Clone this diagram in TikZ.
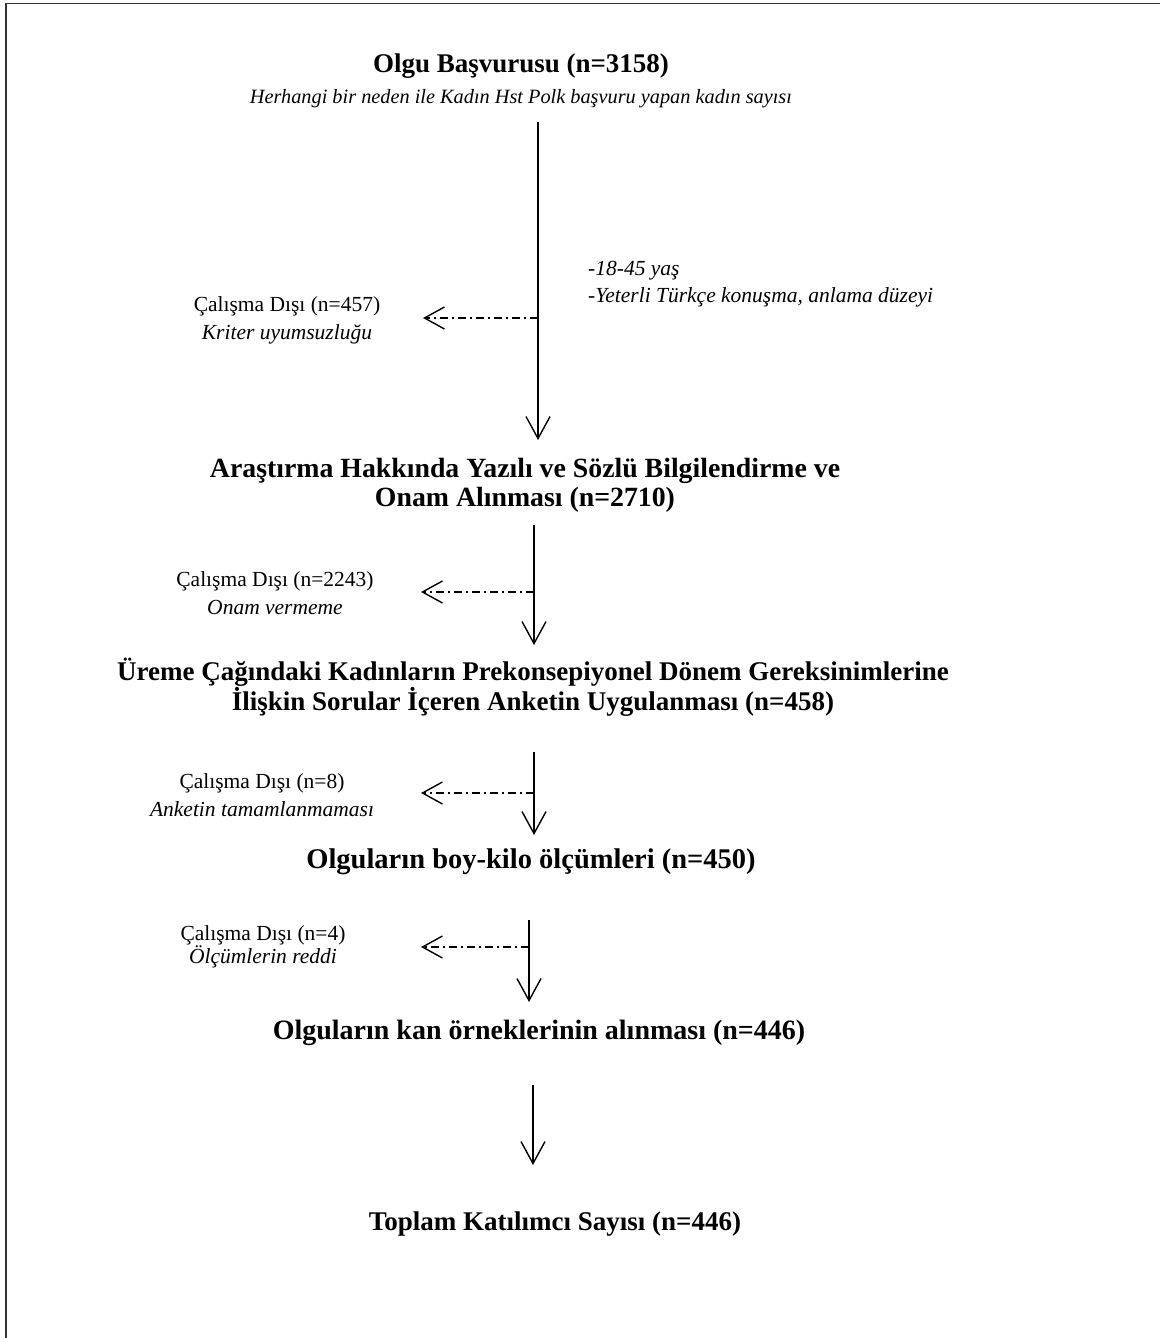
\documentclass[tikz,border=0pt]{standalone}
\usepackage{fontspec}
\setmainfont{Liberation Serif}
\usetikzlibrary{arrows.meta}
\begin{document}
\begin{tikzpicture}[x=1pt,y=-1pt,
  mainbox/.style={font=\fontsize{27}{30}\selectfont\bfseries, align=center, inner sep=0pt},
  subtxt/.style={font=\fontsize{20.3}{28}\selectfont\itshape, align=center, inner sep=0pt},
  exctxt/.style={font=\fontsize{21.5}{28}\selectfont, align=center, inner sep=0pt},
  crit/.style={font=\fontsize{21.5}{27}\selectfont\itshape, align=left, inner sep=0pt, anchor=west},
  flow/.style={line width=1.4pt, -{Straight Barb[length=22pt,width=24pt,line width=1.4pt]}},
  side/.style={line width=1.4pt, dash pattern=on 8pt off 4pt on 2pt off 4pt, -{Straight Barb[length=20pt,width=22pt,line width=1.4pt]}}
]
\useasboundingbox (0,0) rectangle (1160,1338);
\draw[line width=1.8pt, black!80] (6,1338) -- (6,3.5) -- (1160,3.5);

% main nodes
\node[mainbox] (n1) at (521,66) {Olgu Başvurusu (n=3158)};
\node[subtxt] (n1s) at (521,99) {Herhangi bir neden ile Kadın Hst Polk başvuru yapan kadın sayısı};
\node[mainbox, font=\fontsize{27.8}{29}\selectfont\bfseries] (n2) at (525,485) {Araştırma Hakkında Yazılı ve Sözlü Bilgilendirme ve\\Onam Alınması (n=2710)};
\node[mainbox] (n3) at (533,687) {Üreme Çağındaki Kadınların Prekonsepiyonel Dönem Gereksinimlerine\\İlişkin Sorular İçeren Anketin Uygulanması (n=458)};
\node[mainbox, font=\fontsize{28.5}{30}\selectfont\bfseries] (n4) at (531,862) {Olguların boy-kilo ölçümleri (n=450)};
\node[mainbox, font=\fontsize{28}{30}\selectfont\bfseries] (n5) at (539,1033) {Olguların kan örneklerinin alınması (n=446)};
\node[mainbox] (n6) at (555,1224) {Toplam Katılımcı Sayısı (n=446)};

% criteria
\node[crit] (cr) at (588,284) {-18-45 yaş\\-Yeterli Türkçe konuşma, anlama düzeyi};

% exclusions
\node[exctxt] (e1) at (287,320) {Çalışma Dışı (n=457)\\\textit{Kriter uyumsuzluğu}};
\node[exctxt] (e2) at (275,593) {Çalışma Dışı (n=2243)\\\textit{Onam vermeme}};
\node[exctxt] (e3) at (262,795) {Çalışma Dışı (n=8)\\\textit{Anketin tamamlanmaması}};
\node[exctxt, font=\fontsize{21.5}{20}\selectfont] (e4) at (263,947) {Çalışma Dışı (n=4)\\\textit{Ölçümlerin reddi}};

% connector coordinates
\coordinate (a1s) at (538,122);
\coordinate (a1e) at (538,440);
\coordinate (b1) at (538,318);
\coordinate (t1) at (423,318);
\coordinate (a2s) at (534,525);
\coordinate (a2e) at (534,645);
\coordinate (b2) at (534,592);
\coordinate (t2) at (421,592);
\coordinate (a3s) at (534,752);
\coordinate (a3e) at (534,835);
\coordinate (b3) at (534,793);
\coordinate (t3) at (421,793);
\coordinate (a4s) at (529,920);
\coordinate (a4e) at (529,1002);
\coordinate (b4) at (529,947);
\coordinate (t4) at (421,947);
\coordinate (a5s) at (533,1085);
\coordinate (a5e) at (533,1165);

\draw[flow] (a1s) -- (a1e);
\draw[flow] (a2s) -- (a2e);
\draw[flow] (a3s) -- (a3e);
\draw[flow] (a4s) -- (a4e);
\draw[flow] (a5s) -- (a5e);
\draw[side] (b1) -- (t1);
\draw[side] (b2) -- (t2);
\draw[side] (b3) -- (t3);
\draw[side] (b4) -- (t4);
\end{tikzpicture}
\end{document}
